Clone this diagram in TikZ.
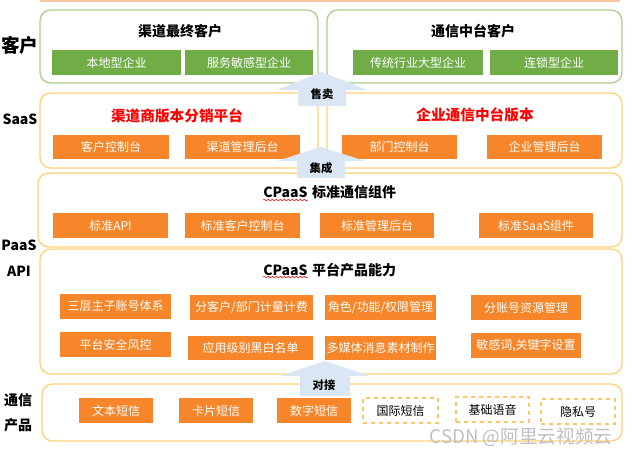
\documentclass[tikz,border=0pt]{standalone}
\usepackage{fontspec}
\setmainfont{Noto Sans CJK SC}
\usetikzlibrary{decorations.pathmorphing}
\definecolor{gfill}{RGB}{112,173,71}
\definecolor{gline}{RGB}{169,208,142}
\definecolor{ofill}{RGB}{247,133,41}
\definecolor{oline}{RGB}{255,210,120}
\definecolor{afill}{RGB}{218,230,243}
\definecolor{dline}{RGB}{250,200,100}
\definecolor{topline}{RGB}{248,200,160}
\newcommand{\bx}[7]{\node[#6, minimum width={(#4-#2)*0.75pt}, minimum height={(#5-#3)*0.75pt}] (#1) at ({(#2+#4)/2},{(#3+#5)/2}) {#7};}
\newcommand{\uparr}[7]{% center x, tip y, head base y, head half width, shaft half width, bottom y
  \fill[afill] (#1,#2) -- (#1+#4,#3) -- (#1+#5,#3) -- (#1+#5,#6) -- (#1-#5,#6) -- (#1-#5,#3) -- (#1-#4,#3) -- cycle;}
\begin{document}
\begin{tikzpicture}[x=0.75pt,y=-0.75pt,
  outerG/.style={draw=gline, line width=1pt, rounded corners=8pt, inner sep=0pt},
  outerO/.style={draw=oline, line width=1pt, rounded corners=8pt, inner sep=0pt},
  gbox/.style={fill=gfill, text=white, font=\fontsize{9}{10}\selectfont, inner sep=0pt},
  obox/.style={fill=ofill, text=white, font=\fontsize{9}{10}\selectfont, inner sep=0pt},
  dbox/.style={draw=dline, dashed, line width=0.8pt, text=black, font=\fontsize{9}{10}\selectfont, inner sep=0pt},
  ttl/.style={font=\bfseries\fontsize{10.5}{12}\selectfont, inner sep=0pt},
  rttl/.style={ttl, text=red, font=\bfseries\fontsize{11}{12}\selectfont},
  side/.style={font=\bfseries\fontsize{10.5}{12}\selectfont, inner sep=0pt},
  alabel/.style={font=\bfseries\fontsize{8.5}{9}\selectfont, inner sep=0pt}]
\useasboundingbox (0,0) rectangle (632,456);
\fill[white] (0,0) rectangle (632,456);
\draw[topline, line width=1.2pt] (40,0.8) -- (620,0.8);

% side labels
\node[side, font=\bfseries\fontsize{14}{16}\selectfont] (l1) at (20,45) {客户};
\node[side] (l2) at (20,119) {SaaS};
\node[side] (l3) at (19,245) {PaaS};
\node[side] (l4) at (19,271) {API};
\node[side] (l5) at (18,400) {通信};
\node[side] (l6) at (18,425) {产品};

% customer row
\bx{cL}{40}{10}{318}{83}{outerG}{}
\bx{cR}{327}{10}{622}{83}{outerG}{}
\node[ttl] (cLt) at (180,31) {渠道最终客户};
\node[ttl] (cRt) at (473,31) {通信中台客户};
\bx{g1}{52}{50}{181}{75}{gbox}{本地型企业}
\bx{g2}{185}{50}{313}{75}{gbox}{服务敏感型企业}
\bx{g3}{353}{50}{483}{75}{gbox}{传统行业大型企业}
\bx{g4}{490}{50}{618}{75}{gbox}{连锁型企业}

% SaaS row
\bx{sL}{40}{93}{318}{168}{outerO}{}
\bx{sR}{327}{93}{622}{168}{outerO}{}
\node[rttl] (sLt) at (177,116) {渠道商版本分销平台};
\node[rttl] (sRt) at (475,115) {企业通信中台版本};
\bx{s1}{53}{135}{169}{159}{obox}{客户控制台}
\bx{s2}{185}{135}{300}{159}{obox}{渠道管理后台}
\bx{s3}{342}{135}{457}{159}{obox}{部门控制台}
\bx{s4}{487}{135}{602}{159}{obox}{企业管理后台}

% PaaS row
\bx{pB}{38}{173}{622}{247}{outerO}{}
\node[ttl, anchor=base west] (pTa) at (263,198) {CPaaS};
\node[ttl, anchor=base west] (pTb) at ([xshift=3pt]pTa.base east) {标准通信组件};
\draw[red, line width=0.4pt, decorate, decoration={snake, amplitude=0.6pt, segment length=3pt}] ([yshift=-1.2pt]pTa.south west) -- ([yshift=-1.2pt]pTa.south east);
\bx{p1}{53}{213}{168}{238}{obox}{标准API}
\bx{p2}{185}{213}{300}{238}{obox}{标准客户控制台}
\bx{p3}{320}{213}{434}{238}{obox}{标准管理后台}
\bx{p4}{479}{213}{593}{238}{obox}{标准SaaS组件}

% platform row
\bx{qB}{40}{249}{622}{374}{outerO}{}
\node[ttl, anchor=base west] (qTa) at (263,275) {CPaaS};
\node[ttl, anchor=base west] (qTb) at ([xshift=3pt]qTa.base east) {平台产品能力};
\draw[red, line width=0.4pt, decorate, decoration={snake, amplitude=0.6pt, segment length=3pt}] ([yshift=-1.2pt]qTa.south west) -- ([yshift=-1.2pt]qTa.south east);
\bx{q1}{60}{294}{171}{319}{obox}{三层主子账号体系}
\bx{q2}{190}{295}{313}{320}{obox}{分客户/部门计量计费}
\bx{q3}{325}{295}{436}{320}{obox}{角色/功能/权限管理}
\bx{q4}{471}{295}{581}{320}{obox}{分账号资源管理}
\bx{q5}{60}{332}{171}{357}{obox}{平台安全风控}
\bx{q6}{188}{336}{313}{360}{obox}{应用级别黑白名单}
\bx{q7}{325}{336}{436}{360}{obox}{多媒体消息素材制作}
\bx{q8}{471}{333}{581}{358}{obox}{敏感词,关键字设置}

% communication products row
\bx{mB}{42}{384}{622}{441}{outerO}{}
\bx{m1}{79}{398}{153}{423}{obox}{文本短信}
\bx{m2}{179}{398}{253}{423}{obox}{卡片短信}
\bx{m3}{277}{398}{351}{423}{obox}{数字短信}
\bx{m4}{363}{398}{438}{423}{dbox}{国际短信}
\bx{m5}{456}{397}{529}{422}{dbox}{基础语音}
\bx{m6}{541}{399}{615}{424}{dbox}{隐私号}

% up arrows
\uparr{322}{72}{90}{45}{24}{106}{}
\node[alabel] (a1) at (322,94) {售卖};
\uparr{321}{147}{161}{44}{24}{178}{}
\node[alabel] (a2) at (321,168) {集成};
\uparr{325}{361}{376}{45}{25}{396}{}
\node[alabel] (a3) at (324,385) {对接};

% watermark
\node[text=gray!50, font=\fontsize{14}{15}\selectfont, inner sep=0pt] (wm) at (521,437) {CSDN @阿里云视频云};
\end{tikzpicture}
\end{document}
